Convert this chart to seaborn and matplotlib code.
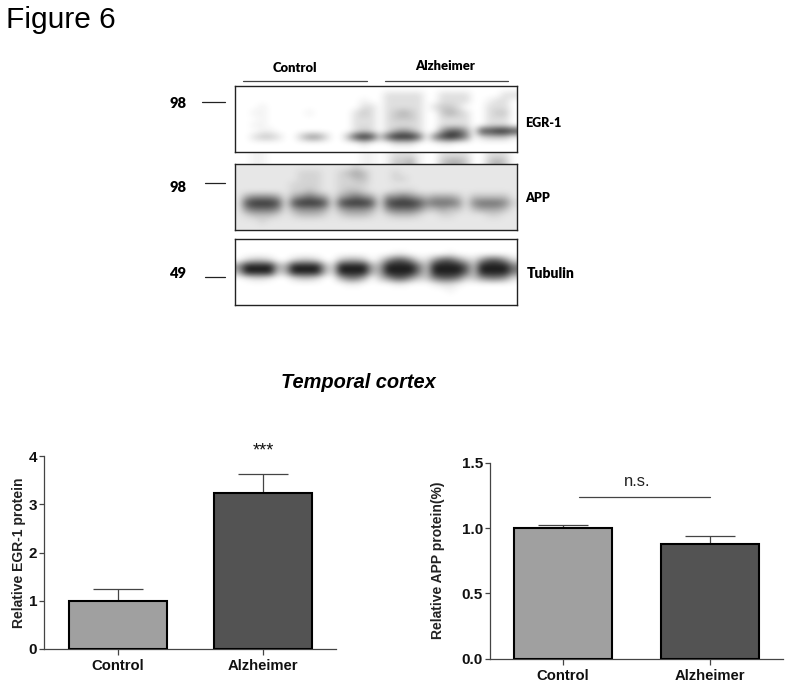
# -*- coding: utf-8 -*-
# Figure 6: western blots plus two bar charts (temporal cortex)
import numpy as np
import seaborn as sns
import matplotlib.pyplot as plt
from matplotlib.colors import LinearSegmentedColormap

# bar chart values
groups = ["Control", "Alzheimer"]
egr_mean = [1.0, 3.24]
egr_upper = [1.25, 3.62]
app_mean = [1.0, 0.875]
app_upper = [1.025, 0.94]
egr_ticks = [0, 1, 2, 3, 4]
app_ticks = [0.0, 0.5, 1.0, 1.5]

# blot darkness, 0 = white, 9 = darkest
egr_blot = [
    "000000000000000000000000000000000000",
    "000000000000000000022222002222000022",
    "000000000000000010022222002222001220",
    "000100000000000022022222023320002220",
    "001100000100000232023432003432002330",
    "000100000000000222023332002222002220",
    "001100000000000222022222002222002220",
    "000110000000000232024542005775088998",
    "002332003553004898379997068986023331",
    "000000000000000020002220001100000000",
    "000000000000000000000000000000000000",
]
gap_blot = [
    "001100000000000011012221002222002220",
    "001100000000000011013341003443003430",
]
app_blot = [
    "111111111111111211111111111111111111",
    "111111112221123431112111111111111111",
    "111111112221122331112211111111111111",
    "111111122221122221111111111111111111",
    "111111122321123321112221111111111111",
    "145554145654145654155654344431333331",
    "178887178887178887178887566651566652",
    "156665145554145554156665334331344431",
    "123332123332123332123332112211112211",
    "111211111111111111111111111111111111",
    "111111111111111111111111111111111111",
]
tub_blot = [
    "000000000000000000000000000000000000",
    "000000000000000000000000000000000000",
    "000000000000000000001100000100000000",
    "023320023320034430257752257753257752",
    "599994499994299994499996399997399996",
    "499993499994299994499996399997399996",
    "012210023320046640357753367763356652",
    "000000000000001100001100012210000000",
    "000000000000000000000000000100000000",
    "000000000000000000000000000000000000",
    "000000000000000000000000000000000000",
]

W, H = 791, 687
sns.set_style("ticks")
plt.rcParams["font.family"] = ["Liberation Sans", "DejaVu Sans"]
blot_font = ["Lato", "DejaVu Sans"]
edge_gray = "#444444"
blot_cmap = LinearSegmentedColormap.from_list("blot", ["#ffffff", "#1e1e1e"])

fig = plt.figure(figsize=(W / 100, H / 100), dpi=100)


def px_axes(x0, y0, x1, y1, **kw):
    # axes from pixel box, y counted from the top of the image
    return fig.add_axes([x0 / W, 1 - y1 / H, (x1 - x0) / W, (y1 - y0) / H], **kw)


# overlay in pixels for the texts and small rules
over = px_axes(0, 0, W, H)
over.set_xlim(0, W)
over.set_ylim(H, 0)
over.axis("off")


def blot_panel(rows, box, frame=True, floor=0.0):
    ax = px_axes(*box)
    grid = np.array([[int(c) for c in r] for r in rows], dtype=float)
    # faint digits stay faint, floor lifts the grey film background
    shade = floor + (grid / 9) ** 1.3
    ax.imshow(shade, cmap=blot_cmap, vmin=0, vmax=1, aspect="auto", interpolation="bicubic")
    ax.set_xticks([])
    ax.set_yticks([])
    for s in ax.spines.values():
        s.set_visible(frame)
        s.set_color("#222222")
        s.set_linewidth(1.0)
    return ax


blot_panel(gap_blot, (235, 152, 517, 164), frame=False)
blot_panel(egr_blot, (235, 86, 517, 152))
blot_panel(app_blot, (235, 164, 517, 230), floor=0.05)
blot_panel(tub_blot, (235, 239, 517, 305))

over.text(6, 20, "Figure 6", fontsize=21.5, va="center", ha="left", color="#000000")
over.text(295, 67.5, "Control", fontsize=9.4, fontweight="heavy", family=blot_font, ha="center", va="center", color="black")
over.text(445, 66, "Alzheimer", fontsize=9.4, fontweight="heavy", family=blot_font, ha="center", va="center", color="black")
over.plot([243, 367], [81, 81], color=edge_gray, lw=0.9)
over.plot([384.5, 508], [80.5, 80.5], color=edge_gray, lw=0.9)
for label, ly, tick_y, tick_x0 in [("98", 103, 101.5, 202), ("98", 188, 182.5, 205), ("49", 273, 277, 205)]:
    over.text(178, ly, label, fontsize=10.5, fontweight="heavy", family=blot_font, ha="center", va="center", color="black")
    over.plot([tick_x0, 225], [tick_y, tick_y], color="#222222", lw=0.9)
over.text(525, 123, "EGR-1", fontsize=9, fontweight="heavy", family=blot_font, va="center", color="black")
over.text(525, 198, "APP", fontsize=9, fontweight="heavy", family=blot_font, va="center", color="black")
over.text(527, 273, "Tubulin", fontsize=10, fontweight="heavy", family=blot_font, va="center", color="black")
over.text(358, 382, "Temporal cortex", fontsize=14.4, fontweight="bold", style="italic", ha="center", va="center", color="black")


def bar_chart(box, means, uppers, ticks, ylim, xlim, ylabel, fmt, label_x):
    ax = px_axes(*box)
    ax.patch.set_alpha(0)
    sns.barplot(x=groups, y=means, hue=groups, palette=["#a0a0a0", "#535353"], width=0.67,
                edgecolor="black", linewidth=1.5, legend=False, ax=ax, zorder=3)
    errs = [u - m for u, m in zip(uppers, means)]
    ax.errorbar(range(len(groups)), means, yerr=[[0] * len(errs), errs], fmt="none",
                ecolor=edge_gray, elinewidth=0.9, capsize=17.8, capthick=0.9, zorder=1)
    ax.set_xlim(*xlim)
    ax.set_ylim(*ylim)
    ax.set_yticks(ticks)
    ax.set_yticklabels([fmt % t for t in ticks], fontsize=11, fontweight="bold", color="#111111")
    ax.set_xticks(range(len(groups)))
    ax.set_xticklabels(groups, fontsize=10.7, fontweight="bold", color="#111111")
    ax.tick_params(axis="y", length=3.5, width=0.9, color=edge_gray, pad=1.5)
    ax.tick_params(axis="x", length=4.5, width=0.9, color=edge_gray, pad=3)
    ax.set_ylabel(ylabel, fontsize=10, fontweight="bold", color="#222222")
    ax.yaxis.set_label_coords(label_x, 0.5)
    sns.despine(ax=ax)
    for side in ["left", "bottom"]:
        ax.spines[side].set_color(edge_gray)
        ax.spines[side].set_linewidth(0.9)
    return ax


left = bar_chart((44, 456, 336, 649), egr_mean, egr_upper, egr_ticks, (0, 4), (-0.51, 1.503),
                 "Relative EGR-1 protein", "%d", -0.061)
left.text(1, 4.1, "***", fontsize=13, ha="center", va="center", color="#111111")

right = bar_chart((490, 462.7, 783, 658.7), app_mean, app_upper, app_ticks, (0, 1.5), (-0.497, 1.497),
                  "Relative APP protein(%)", "%.1f", -0.154)
right.plot([0.11, 1.0], [1.24, 1.24], color=edge_gray, lw=0.9)
right.text(0.505, 1.355, "n.s.", fontsize=12, ha="center", va="center", color="#222222")

fig.savefig("out.png", dpi=100)
